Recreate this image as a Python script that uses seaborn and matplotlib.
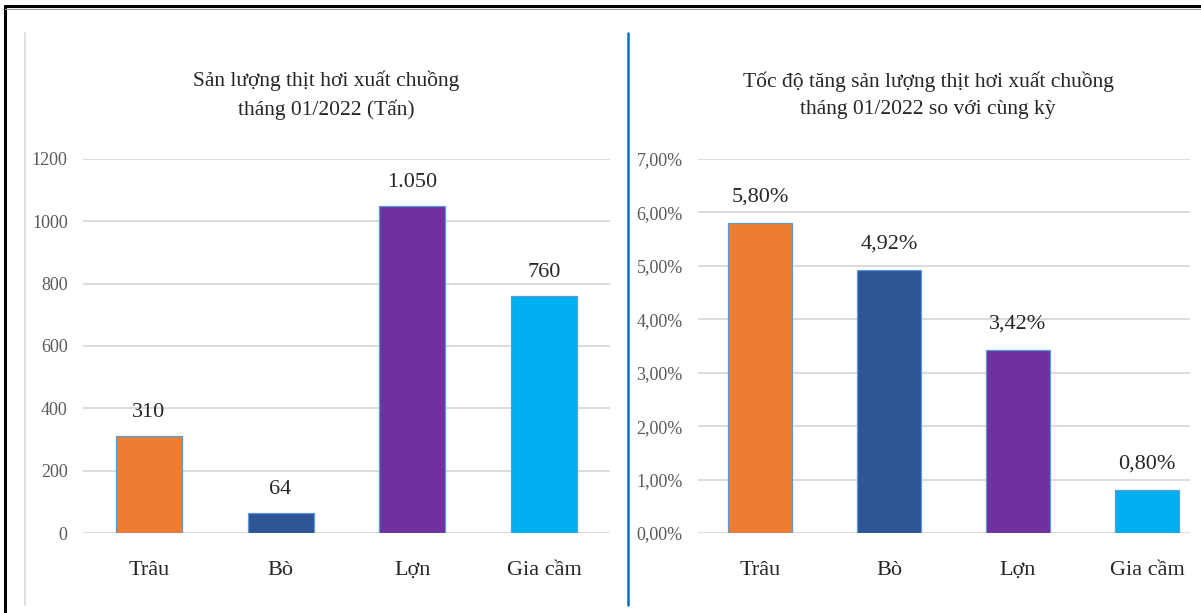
import numpy as np
import pandas as pd
import matplotlib
matplotlib.use("Agg")
import matplotlib.pyplot as plt
from matplotlib.lines import Line2D
from matplotlib.ticker import FuncFormatter
import seaborn as sns

# du lieu
CATEGORIES = ["Trâu", "Bò", "Lợn", "Gia cầm"]
OUTPUT_TONS = [310, 64, 1050, 760]
OUTPUT_LABELS = ["310", "64", "1.050", "760"]
GROWTH_PCT = [5.80, 4.92, 3.42, 0.80]
GROWTH_LABELS = ["5,80%", "4,92%", "3,42%", "0,80%"]
COLORS = ["#ED7D31", "#2F5597", "#7030A0", "#00B0F0"]

TITLE_LEFT = "Sản lượng thịt hơi xuất chuồng\ntháng 01/2022 (Tấn)"
TITLE_RIGHT = "Tốc độ tăng sản lượng thịt hơi xuất chuồng\ntháng 01/2022 so với cùng kỳ"

sns.set_style("white")
plt.rcParams["font.family"] = ["Liberation Serif", "DejaVu Serif"]

W, H = 1201, 613
fig = plt.figure(figsize=(W / 100, H / 100), dpi=100)

GRID = "#D9D9D9"
TICK_COLOR = "#595959"
LABEL_COLOR = "#262626"


def px(x0, y_top, w, h):
    # pixel box -> figure fraction
    return [x0 / W, (H - y_top - h) / H, w / W, h / H]


def draw_panel(ax, values, labels, ylim, yticks, fmt, xlim, offset):
    df = pd.DataFrame({"cat": CATEGORIES, "val": values})
    sns.barplot(data=df, x="cat", y="val", hue="cat", palette=COLORS,
                saturation=1, legend=False, width=0.5, edgecolor="#5B9BD5",
                linewidth=0.9, ax=ax, zorder=3)
    for i, (v, lab) in enumerate(zip(values, labels)):
        ax.annotate(lab, (i, v), xytext=(0, offset), textcoords="offset points",
                    ha="center", va="bottom", fontsize=16, color=LABEL_COLOR)
    ax.set_ylim(*ylim)
    ax.set_xlim(*xlim)
    ax.set_yticks(yticks)
    ax.yaxis.set_major_formatter(FuncFormatter(fmt))
    ax.grid(axis="y", color=GRID, linewidth=1.3, zorder=0)
    ax.grid(axis="x", visible=False)
    for s in ax.spines.values():
        s.set_visible(False)
    ax.tick_params(axis="y", length=0, pad=11, labelsize=13, labelcolor=TICK_COLOR)
    ax.tick_params(axis="x", length=0, pad=20, labelsize=16, labelcolor=LABEL_COLOR)
    ax.set_xlabel("")
    ax.set_ylabel("")


ax1 = fig.add_axes(px(83, 159, 527, 374))
draw_panel(ax1, OUTPUT_TONS, OUTPUT_LABELS, (0, 1200), np.arange(0, 1201, 200),
           lambda v, p: f"{int(v)}", (-0.5, 3.5), 10)

ax2 = fig.add_axes(px(698, 159, 492, 374))
draw_panel(ax2, GROWTH_PCT, GROWTH_LABELS, (0, 7), np.arange(0, 7.01, 1),
           lambda v, p: f"{v:.2f}%".replace(".", ","), (-0.48, 3.333), 12)

fig.text(326 / W, 1 - 95 / H, TITLE_LEFT, ha="center", va="center",
         fontsize=15.5, color=LABEL_COLOR, linespacing=1.55)
fig.text(928 / W, 1 - 95 / H, TITLE_RIGHT, ha="center", va="center",
         fontsize=15.5, color=LABEL_COLOR, linespacing=1.55)

# khung va duong phan cach
fig.add_artist(Line2D([5 / W, 5 / W], [0, 1 - 6 / H], color="black", lw=2.2))
fig.add_artist(Line2D([5 / W, 1], [1 - 6 / H, 1 - 6 / H], color="black", lw=2.2))
fig.add_artist(Line2D([5 / W, 1], [1 - 8.5 / H, 1 - 8.5 / H], color="#9A9A9A", lw=0.8))
fig.add_artist(Line2D([25 / W, 25 / W], [1 - 605 / H, 1 - 33 / H], color="#D9D9D9", lw=1.2))
fig.add_artist(Line2D([628 / W, 628 / W], [1 - 605 / H, 1 - 33 / H], color="#0070C0", lw=1.8))

fig.savefig("out.png", dpi=100)
